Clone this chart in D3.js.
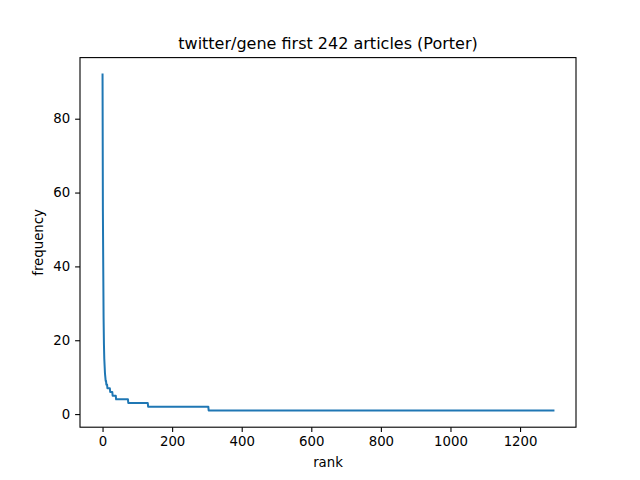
<!DOCTYPE html>
<html lang="en">
<head>
    <meta charset="UTF-8">
    <title>twitter/gene first 242 articles (Porter)</title>
    <style>
        body { margin: 0; background: #fff; }
        svg text { font-family: "DejaVu Sans", sans-serif; fill: #000; }
    </style>
</head>
<body>
    <div id="chart"></div>
    <script src="https://d3js.org/d3.v7.min.js"></script>
    <script>
        var freqLevels = [92, 55, 40, 26, 19, 15, 13, 11, 10, 9, 9, 8, 8, 8, 7, 6, 5, 4, 3, 2, 1];
        var runLengths = [1, 1, 1, 1, 1, 1, 1, 1, 1, 1, 1, 1, 1, 1, 8, 7, 10, 35, 57, 174, 992];
        var xTicks = [0, 200, 400, 600, 800, 1000, 1200];
        var yTicks = [0, 20, 40, 60, 80];
        var title = "twitter/gene first 242 articles (Porter)";

        // one value per rank
        var freqs = [];
        freqLevels.forEach(function (f, i) {
            for (var k = 0; k < runLengths[i]; k++) freqs.push(f);
        });
        var data = freqs.map(function (f, i) { return { rank: i, freq: f }; });

        var W = 640, H = 480;
        // axes box (matplotlib default subplot params)
        var axL = 80, axR = 576, axT = 57.6, axB = 427.2;

        var svg = d3.select("#chart").append("svg")
            .attr("width", W)
            .attr("height", H);

        // matplotlib style 5% margins
        var xMax = data.length - 1;
        var xPad = xMax * 0.05;
        var yMin = d3.min(freqs), yMax = d3.max(freqs);
        var yPad = (yMax - yMin) * 0.05;

        var x = d3.scaleLinear().domain([-xPad, xMax + xPad]).range([axL, axR]);
        var y = d3.scaleLinear().domain([yMin - yPad, yMax + yPad]).range([axB, axT]);

        var line = d3.line()
            .x(function (d) { return x(d.rank); })
            .y(function (d) { return y(d.freq); });

        svg.append("path")
            .datum(data)
            .attr("fill", "none")
            .attr("stroke", "#1f77b4")
            .attr("stroke-width", 2)
            .attr("stroke-linejoin", "round")
            .attr("stroke-linecap", "square")
            .attr("d", line);

        // axes
        var xAxis = svg.append("g")
            .attr("transform", "translate(0," + axB + ")")
            .call(d3.axisBottom(x).tickValues(xTicks).tickSize(4.9).tickPadding(4.9).tickFormat(d3.format("d")));
        var yAxis = svg.append("g")
            .attr("transform", "translate(" + axL + ",0)")
            .call(d3.axisLeft(y).tickValues(yTicks).tickSize(4.9).tickPadding(4.9).tickFormat(d3.format("d")));

        [xAxis, yAxis].forEach(function (g) {
            g.select(".domain").remove();
            g.selectAll(".tick line").attr("stroke", "#000").attr("stroke-width", 1.1);
            g.selectAll(".tick text").style("font-size", "13.3px").attr("fill", "#000");
        });

        // frame
        svg.append("rect")
            .attr("x", axL)
            .attr("y", axT)
            .attr("width", axR - axL)
            .attr("height", axB - axT)
            .attr("fill", "none")
            .attr("stroke", "#000")
            .attr("stroke-width", 1.1);

        svg.append("text")
            .attr("x", (axL + axR) / 2)
            .attr("y", 49)
            .attr("text-anchor", "middle")
            .style("font-size", "16px")
            .text(title);

        svg.append("text")
            .attr("x", (axL + axR) / 2)
            .attr("y", 467)
            .attr("text-anchor", "middle")
            .style("font-size", "13.3px")
            .text("rank");

        svg.append("text")
            .attr("transform", "translate(43," + (axT + axB) / 2 + ") rotate(-90)")
            .attr("text-anchor", "middle")
            .style("font-size", "13.3px")
            .text("frequency");
    </script>
</body>
</html>
